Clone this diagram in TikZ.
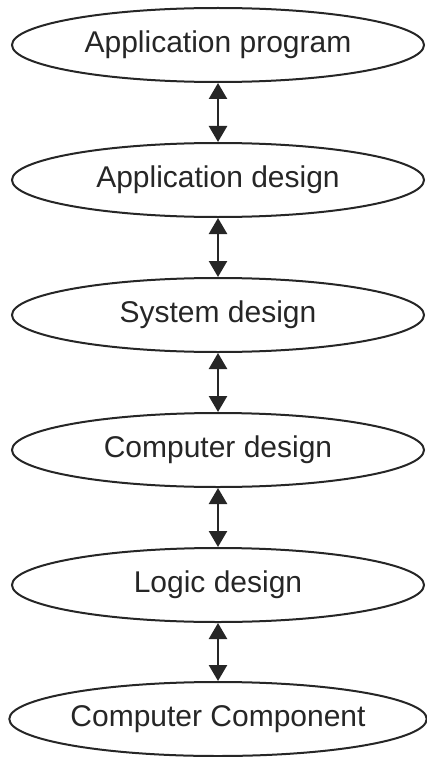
\documentclass[tikz,border=0pt]{standalone}
\usepackage{fontspec}
\setmainfont{Liberation Sans}
\usetikzlibrary{shapes.geometric,arrows.meta}
\begin{document}
\begin{tikzpicture}[x=1pt,y=1pt,
  layer/.style={ellipse,draw=black!85,line width=2pt,minimum width=412pt,minimum height=74pt,inner sep=0pt,font=\fontsize{30}{34}\selectfont,text=black!85},
  link/.style={{Triangle[width=18pt,length=16pt]}-{Triangle[width=18pt,length=16pt]},line width=2.5pt,draw=black!85,fill=black!85}]
\useasboundingbox (0,0) rectangle (427,-757);
\node[layer] (ap) at (218,-45) {Application program};
\node[layer] (ad) at (218,-180) {Application design};
\node[layer] (sd) at (218,-315) {System design};
\node[layer] (cd) at (218,-450) {Computer design};
\node[layer] (ld) at (218,-585) {Logic design};
\node[layer] (cc) at (218,-719) {Computer Component};
\draw[link] (ap.south) -- (ad.north);
\draw[link] (ad.south) -- (sd.north);
\draw[link] (sd.south) -- (cd.north);
\draw[link] (cd.south) -- (ld.north);
\draw[link] (ld.south) -- (cc.north);
\end{tikzpicture}
\end{document}
